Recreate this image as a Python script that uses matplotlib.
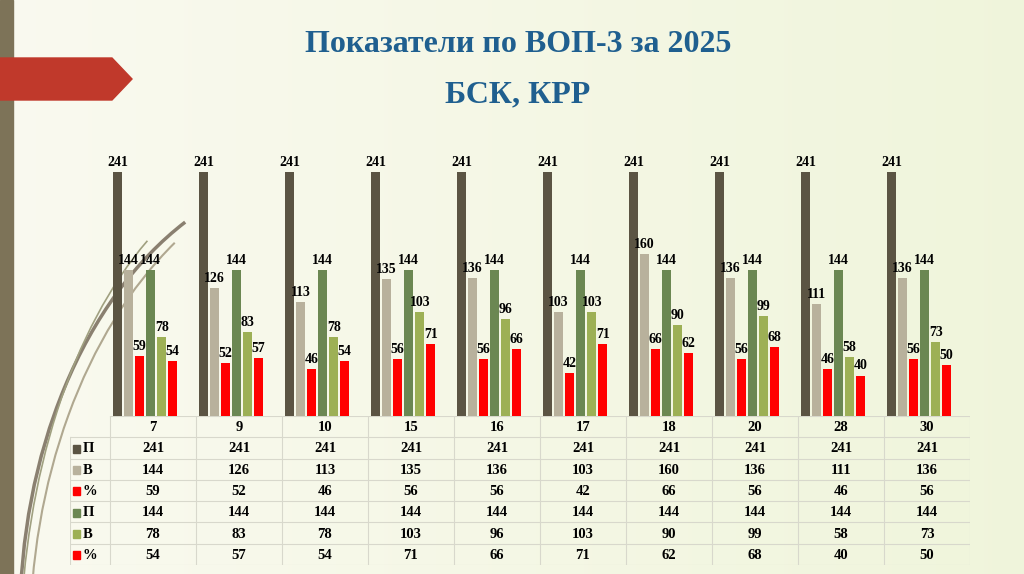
import matplotlib
matplotlib.use("Agg")
import matplotlib.pyplot as plt
import numpy as np
from matplotlib.patches import Polygon, Rectangle, Arc

categories = ["7", "9", "10", "15", "16", "17", "18", "20", "28", "30"]
row_labels = ["П", "В", "%", "П", "В", "%"]
s1 = [241]*10
s2 = [144, 126, 113, 135, 136, 103, 160, 136, 111, 136]
s3 = [59, 52, 46, 56, 56, 42, 66, 56, 46, 56]
s4 = [144]*10
s5 = [78, 83, 78, 103, 96, 103, 90, 99, 58, 73]
s6 = [54, 57, 54, 71, 66, 71, 62, 68, 40, 50]
series = [s1, s2, s3, s4, s5, s6]
colors = ["#5b5443", "#b8b19c", "#ff0000", "#6b8752", "#9db055", "#ff0000"]

plt.rcParams['font.family'] = ['Liberation Serif', 'DejaVu Serif']
fig = plt.figure(figsize=(10.24, 5.74), dpi=100)

# background
bg = fig.add_axes([0, 0, 1, 1]); bg.set_axis_off()
grad = np.linspace(0, 1, 256)[None, :]
bg.imshow(np.dstack([0.98 - 0.04*grad, 0.98 - 0.02*grad, 0.94 - 0.08*grad]),
          extent=[0, 1024, 0, 574], aspect='auto')
bg.set_xlim(0, 1024); bg.set_ylim(574, 0)
bg.add_patch(Rectangle((0, 0), 13, 574, color="#7d7358"))
bg.add_patch(Polygon([[0, 58], [112, 58], [132, 79], [112, 100], [0, 100]], color="#c0392b"))
for (cx, cy, w, h, t1, t2, c, lw) in [(330, 620, 620, 900, 180, 250, "#8a8070", 2.5),
                                       (360, 640, 660, 960, 180, 245, "#b0a890", 1.5),
                                       (300, 660, 560, 1000, 185, 250, "#a0a080", 1.2)]:
    bg.add_patch(Arc((cx, cy), w, h, theta1=t1, theta2=t2, color=c, lw=lw))
bg.text(518, 45, "Показатели по ВОП-3 за 2025", ha='center', va='center',
        fontsize=23, fontweight='bold', color="#1f5f8f")
bg.text(518, 95, "БСК, КРР", ha='center', va='center',
        fontsize=23, fontweight='bold', color="#1f5f8f")

ax = fig.add_axes([110/1024, 1 - 416/574, 860/1024, 266/574])
ax.set_axis_off()
x = np.arange(len(categories))
step, bw = 0.128, 0.1
for i, (vals, c) in enumerate(zip(series, colors)):
    pos = x + (i - 2.5)*step - 0.09
    ax.bar(pos, vals, width=bw, color=c)
    for p, v in zip(pos, vals):
        ax.text(p, v + 3, str(v), ha='center', va='bottom', fontsize=10, fontweight='bold')
ax.set_xlim(-0.5, 9.5); ax.set_ylim(0, 241*266/244)

# table
tb = fig.add_axes([70/1024, 9/574, 900/1024, 149/574])
tb.set_axis_off()
x0 = -0.5 - 40/86
tb.set_xlim(x0, 9.5); tb.set_ylim(7, 0)
lc = "#d8d8cc"
for r in range(8):
    tb.plot([-0.5 if r == 0 else x0, 9.5], [r, r], color=lc, lw=0.8)
for k in range(11):
    tb.plot([k - 0.5]*2, [0, 7], color=lc, lw=0.8)
tb.plot([x0, x0], [1, 7], color=lc, lw=0.8)
for j, cat in enumerate(categories):
    tb.text(j, 0.55, cat, ha='center', va='center', fontsize=10.5, fontweight='bold')
    for r, vals in enumerate(series):
        tb.text(j, r + 1.55, str(vals[j]), ha='center', va='center', fontsize=10.5, fontweight='bold')
for r, (lab, c) in enumerate(zip(row_labels, colors)):
    tb.add_patch(Rectangle((x0 + 0.04, r + 1.35), 0.08, 0.38, color=c))
    tb.text(x0 + 0.15, r + 1.55, lab, ha='left', va='center', fontsize=10.5, fontweight='bold')

fig.savefig("out.png", dpi=100)
